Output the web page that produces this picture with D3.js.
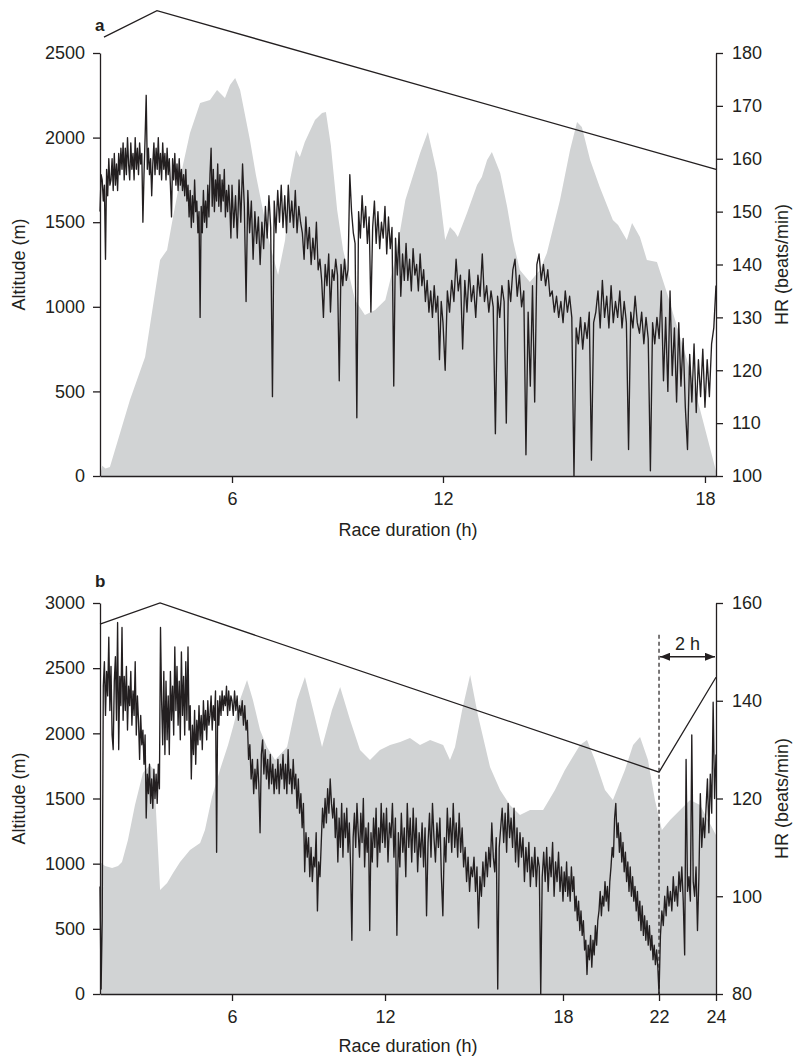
<!DOCTYPE html>
<html><head><meta charset="utf-8">
<script src="https://cdn.jsdelivr.net/npm/d3@7"></script>
<style>
html,body{margin:0;padding:0;background:#fff;}
svg text{font-family:"Liberation Sans",Arial,Helvetica,sans-serif;fill:#231f20;}
</style></head><body>
<svg id="fig" width="794" height="1058"></svg>
<script>
// ---------- Panel a: altitude profile (race hours, metres) ----------
const altTimeA = [0,0.1,0.25,0.45,1.36,2.05,2.73,3.05,3.32,3.77,4.09,4.55,5.0,5.32,5.68,5.91,6.09,6.23,6.37,6.51,6.68,6.85,7.08,7.31,7.51,7.65,7.82,7.93,8.07,8.36,8.56,8.67,8.81,8.99,9.16,9.5,9.78,10.07,10.36,10.64,10.93,11.35,11.57,11.83,12.05,12.16,12.27,12.34,12.55,12.78,12.89,13.01,13.12,13.31,13.47,13.6,13.76,13.99,14.22,14.38,14.68,14.91,15.07,15.18,15.37,15.59,15.89,16.01,16.21,16.33,16.51,16.67,16.9,17.13,17.59,17.89,18.25];
const altA = [0,60,45,53,449,703,1277,1336,1531,1838,2027,2204,2222,2281,2234,2311,2352,2281,2134,1986,1779,1602,1365,1188,1395,1749,1927,1885,1974,2104,2145,2151,1956,1572,1336,1040,952,981,1040,1277,1631,1909,2033,1791,1395,1472,1442,1412,1554,1720,1767,1868,1915,1791,1590,1395,1217,1147,1217,1318,1631,1927,2092,2063,1868,1708,1513,1483,1395,1495,1412,1277,1265,1082,686,390,30];

// Heart rate, one reading every 0.05 h from the start (rows of half an hour)
const hrStep = 0.05;
const hrA = [
150,157,156,152,155,141,158,153,160,155,
156,160,154,161,155,159,154,161,157,162,
158,163,156,162,157,164,159,156,163,158,
161,156,164,158,162,157,163,159,161,148,
157,164,172,158,162,157,160,153,159,163,
157,162,158,164,157,161,156,163,158,161,
156,162,157,160,155,149,160,156,161,155,
159,154,160,155,158,154,157,153,158,152,
155,149,154,147,153,148,156,150,152,146,
150,130,151,146,154,148,152,147,155,149,
157,162,151,158,150,156,152,159,151,157,
150,156,152,158,149,154,150,155,151,145,
155,147,153,145,156,148,159,151,133,154,
146,152,141,150,144,149,140,148,143,151,
145,153,147,115,152,146,154,148,155,147,
153,146,155,148,152,147,154,146,151,148,
146,141,149,143,147,140,145,141,148,139,
141,137,130,140,136,142,131,139,137,141,
138,118,140,136,141,137,139,157,150,146,
144,111,150,145,153,147,151,144,149,131,
147,152,144,150,143,148,145,151,142,149,
143,147,117,145,138,146,134,142,137,144,
137,141,135,143,138,140,135,142,136,139,
133,137,131,135,130,136,131,134,122,133,
129,120,135,131,137,133,141,135,138,124,
137,131,139,133,136,130,138,134,142,133,
136,131,135,132,108,134,130,136,133,110,
137,133,139,141,134,138,132,135,104,131,
117,136,114,140,142,137,140,136,139,134,
135,131,134,130,133,129,135,131,134,130,
100,128,125,130,124,129,126,131,103,129,
131,135,128,137,130,134,128,136,129,133,
130,135,128,133,129,105,131,128,134,129,
127,131,125,130,126,101,129,125,130,126,
135,118,130,116,135,119,128,114,129,117,
126,113,105,123,114,125,112,122,115,124,
113,122,115,125,128,136];

// Reference HR line drawn over panel a (h, beats/min)
const refTimeA = [0.18, 2.59, 18.25];
const refHrA = [183, 188, 158];

// ---------- Panel b ----------
const altTimeB = [0,0.23,0.55,0.82,1.0,1.27,1.59,1.95,2.27,2.45,2.73,3.05,3.32,3.64,4.09,4.55,4.77,5.09,5.45,5.82,6.04,6.31,6.59,6.82,7.1,7.37,7.69,8.16,8.55,8.86,9.18,9.53,9.92,10.24,10.63,11.02,11.41,11.8,12.17,12.51,12.84,13.18,13.52,13.96,14.19,14.36,14.6,14.87,15.13,15.54,15.88,16.21,16.55,16.89,17.33,17.73,18.08,18.71,19.0,19.33,19.75,20.08,20.58,20.92,21.21,21.54,21.83,22.1,22.39,22.74,23.09,23.44,23.72,24.0];
const altB = [1013,982,967,982,1013,1182,1450,1696,1757,1719,798,852,928,1013,1105,1159,1258,1512,1719,1911,2049,2256,2409,2256,2026,1895,1795,1895,2256,2432,2179,1895,2179,2356,2102,1872,1795,1872,1911,1934,1964,1911,1949,1911,1795,1895,2179,2448,2141,1742,1565,1450,1373,1412,1412,1565,1719,1911,1949,1795,1565,1488,1719,1911,1972,1795,1488,1258,1335,1412,1488,1450,1335,1220];

const hrB = [
102,81,95,143,148,137,146,141,153,138,
147,133,130,144,149,136,156,130,145,139,
155,136,145,138,147,134,143,139,146,135,
142,137,148,133,141,136,128,137,131,134,
127,133,116,125,121,127,119,124,118,126,
120,125,119,127,122,155,140,131,146,129,
144,132,141,129,146,136,143,133,151,138,
147,135,144,132,150,137,145,133,148,136,
151,134,139,124,135,129,138,127,136,131,
139,132,137,130,140,134,138,132,140,135,
137,141,134,139,136,142,109,140,135,141,
137,142,138,141,139,143,137,142,138,141,
140,137,142,138,141,136,139,137,140,135,
139,134,136,128,131,124,128,121,126,122,
128,123,113,129,132,125,130,124,128,122,
129,123,127,121,126,122,128,121,127,124,
129,122,127,121,130,123,126,121,128,122,
125,118,124,117,121,114,119,105,113,108,
112,104,110,103,108,106,113,97,107,104,
111,118,114,120,115,122,117,124,119,116,
120,112,118,107,116,110,119,108,117,112,
118,109,115,106,91,112,117,110,119,113,
108,117,111,120,106,114,109,115,93,113,
107,116,110,118,106,114,109,119,111,117,
110,118,107,115,112,119,108,116,92,113,
106,117,109,114,104,119,110,116,107,118,
109,116,105,113,108,115,106,114,96,111,
117,108,119,112,107,115,110,116,104,96,
112,107,118,111,116,109,119,110,115,108,
117,109,114,106,110,103,108,101,106,104,
108,101,106,93.5,104,100,107,102,109,104,
110,106,115,108,105,112,81,110,114,118,
111,117,109,119,112,116,110,118,107,114,
106,113,108,112,103,110,105,111,102,108,
104,110,102,108,106,80,104,109,103,110,
101,108,104,111,100,107,103,109,101,106,
99,105,101,107,100,104,99,106,101,104,
97,100,95,99,93,97,92,95,89,91,
84,90,87,92,85.5,91,88,94,90,95,
97,101,96,100,98,103,99,102,97,103,
106,110,108,116,119,112,115,109,113,107,
111,105,109,103,107,101,106,100,104,99,
102,97,101,95,99,93,98,92,96,91,
95,90,94,89,92,87,90,86,89,85.5,
80,92,97,94,100,96,102,98,101,97,
104,99,102,98,105,101,106,99,88,128,
101,104,99,133,103,100,106,93,104,121,
110,116,112,118,124,113,125,117,139.7,120,
129];

const refTimeB = [0, 2.73, 22, 24];
const refHrB = [155.7, 160, 125.4, 144.8];

// Axis ticks
const altTicksA = [0, 500, 1000, 1500, 2000, 2500];
const hrTicksA = [100, 110, 120, 130, 140, 150, 160, 170, 180];
const timeTicksA = [6, 12, 18];
const altTicksB = [0, 500, 1000, 1500, 2000, 2500, 3000];
const hrTicksB = [80, 100, 120, 140, 160];
const timeTicksB = [6, 12, 18, 22, 24];

// Final-2-hours bracket in panel b
const bracketFrom = 22, bracketTo = 24, bracketLabel = "2 h";

// ---------- Layout ----------
const ink = "#231f20", fillGray = "#d1d3d4";
const plotL = 100, plotR = 716;
const svg = d3.select("#fig");

// Time axis is stretched piecewise between its labelled hours
function timeScale(breaks, fracs) {
  return d3.scaleLinear().domain(breaks).range(fracs.map(f => plotL + f * (plotR - plotL)));
}

const panels = [
  { tag: "a", top: 53, bottom: 476, tagY: 31,
    x: timeScale([0, 6, 12, 18, 18.25], [0, 0.2143, 0.5568, 0.9821, 1]),
    altMax: 2500, hrMin: 100, hrMax: 180,
    altT: altTimeA, alt: altA, hr: hrA, refT: refTimeA, refH: refHrA,
    altTicks: altTicksA, hrTicks: hrTicksA, timeTicks: timeTicksA, xlabY: 536 },
  { tag: "b", top: 603, bottom: 994, tagY: 587,
    x: timeScale([0, 6, 12, 18, 22, 24], [0, 0.2143, 0.4627, 0.7516, 0.9075, 1]),
    altMax: 3000, hrMin: 80, hrMax: 160,
    altT: altTimeB, alt: altB, hr: hrB, refT: refTimeB, refH: refHrB,
    altTicks: altTicksB, hrTicks: hrTicksB, timeTicks: timeTicksB, xlabY: 1052 }
];

svg.append("defs").append("marker")
  .attr("id", "head").attr("viewBox", "0 0 10 8").attr("refX", 10).attr("refY", 4)
  .attr("markerWidth", 10).attr("markerHeight", 8).attr("markerUnits", "userSpaceOnUse")
  .attr("orient", "auto-start-reverse")
  .append("path").attr("d", "M0,0L10,4L0,8Z").attr("fill", ink);

panels.forEach((p, k) => {
  const yAlt = d3.scaleLinear().domain([0, p.altMax]).range([p.bottom, p.top]);
  const yHr = d3.scaleLinear().domain([p.hrMin, p.hrMax]).range([p.bottom, p.top]);
  const g = svg.append("g");

  // altitude profile
  const prof = p.altT.map((t, i) => ({ t, m: p.alt[i] }));
  g.append("path").datum(prof)
    .attr("fill", fillGray)
    .attr("d", d3.area().x(d => p.x(d.t)).y0(yAlt(0)).y1(d => yAlt(d.m)));

  // heart rate trace
  g.append("path").datum(p.hr)
    .attr("fill", "none").attr("stroke", ink).attr("stroke-width", 1.35)
    .attr("stroke-linejoin", "round")
    .attr("d", d3.line().x((v, i) => p.x(i * hrStep)).y(v => yHr(v)));

  // reference HR line
  const ref = p.refT.map((t, i) => ({ t, h: p.refH[i] }));
  g.append("path").datum(ref)
    .attr("fill", "none").attr("stroke", ink).attr("stroke-width", 1.3)
    .attr("d", d3.line().x(d => p.x(d.t)).y(d => yHr(d.h)));

  // axes
  const styleAxis = sel => {
    sel.selectAll("path,line").attr("stroke", ink).attr("stroke-width", 1.3);
    sel.selectAll("text").attr("font-size", 18).attr("fill", ink)
      .attr("font-family", '"Liberation Sans",Arial,sans-serif');
  };
  g.append("g").attr("transform", `translate(${plotL},0)`)
    .call(d3.axisLeft(yAlt).tickValues(p.altTicks).tickSize(7).tickSizeOuter(0).tickPadding(8).tickFormat(d3.format("d")))
    .call(styleAxis);
  g.append("g").attr("transform", `translate(${plotR},0)`)
    .call(d3.axisRight(yHr).tickValues(p.hrTicks).tickSize(7).tickSizeOuter(0).tickPadding(9).tickFormat(d3.format("d")))
    .call(styleAxis);
  g.append("g").attr("transform", `translate(0,${p.bottom})`)
    .call(d3.axisBottom(p.x).tickValues(p.timeTicks).tickSize(7).tickSizeOuter(0).tickPadding(9).tickFormat(d3.format("d")))
    .call(styleAxis);
  g.selectAll(".domain").attr("fill", "none");

  // labels
  const midY = (p.top + p.bottom) / 2;
  g.append("text").attr("transform", `translate(25,${midY}) rotate(-90)`)
    .attr("text-anchor", "middle").attr("font-size", 18).text("Altitude (m)");
  g.append("text").attr("transform", `translate(788,${midY}) rotate(-90)`)
    .attr("text-anchor", "middle").attr("font-size", 18).text("HR (beats/min)");
  g.append("text").attr("x", (plotL + plotR) / 2).attr("y", p.xlabY)
    .attr("text-anchor", "middle").attr("font-size", 18).text("Race duration (h)");
  g.append("text").attr("x", 95).attr("y", p.tagY)
    .attr("font-size", 17).attr("font-weight", "bold").text(p.tag);

  if (k === 1) {
    const xa = p.x(bracketFrom), xb = p.x(bracketTo);
    g.append("line").attr("x1", xa).attr("x2", xa)
      .attr("y1", yHr(153.5)).attr("y2", p.bottom)
      .attr("stroke", ink).attr("stroke-width", 1.2).attr("stroke-dasharray", "4,3");
    g.append("line").attr("x1", xa + 1).attr("x2", xb - 1)
      .attr("y1", yHr(149)).attr("y2", yHr(149))
      .attr("stroke", ink).attr("stroke-width", 1.5)
      .attr("marker-start", "url(#head)").attr("marker-end", "url(#head)");
    g.append("text").attr("x", (xa + xb) / 2).attr("y", yHr(149) - 7)
      .attr("text-anchor", "middle").attr("font-size", 18).text(bracketLabel);
  }
});
</script>
</body></html>
